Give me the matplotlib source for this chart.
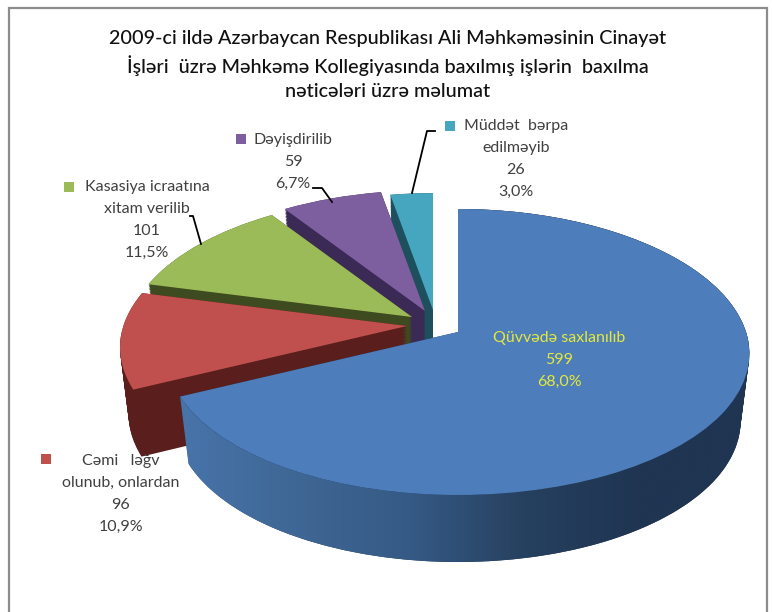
import numpy as np
import matplotlib
matplotlib.use('Agg')
import matplotlib.pyplot as plt
from matplotlib.transforms import Transform
from matplotlib.patches import Polygon
from matplotlib.colors import LinearSegmentedColormap

plt.rcParams['font.family'] = ['Lato', 'Noto Sans', 'DejaVu Sans']

categories = ['Qüvvədə saxlanılıb', 'Cəmi   ləğv\nolunub, onlardan', 'Kasasiya icraatına\nxitam verilib',
              'Dəyişdirilib', 'Müddət  bərpa\nedilməyib']
values = [599, 96, 101, 59, 26]
percents = ['68,0%', '10,9%', '11,5%', '6,7%', '3,0%']
face_colors = ['#4d7ebb', '#c0504d', '#9bbb59', '#7d5f9f', '#46a5bf']
side_colors = ['#1f3552', '#5a1f1c', '#3e4a1f', '#3a2a55', '#1e4f5c']
title = ('2009-ci ildə Azərbaycan Respublikası Ali Məhkəməsinin Cinayət\n'
         'İşləri  üzrə Məhkəmə Kollegiyasında baxılmış işlərin  baxılma\n'
         'nəticələri üzrə məlumat')

# where each slice's tip ends up in the picture, and its size
tips = [(458, 332), (407, 326), (412, 317), (425, 311), (433, 310)]
scales = [1.0, 0.985, 0.98, 0.98, 0.95]
order = [4, 3, 2, 1, 0]  # back to front
DROP = 67
LAYERS = 48


class Tilt(Transform):
    # maps the unit circle of the pie to the tilted disc, z=0 top, z=1 bottom
    input_dims = 2
    output_dims = 2

    def __init__(self, tip, scale, z=0):
        super().__init__()
        self.tip, self.scale, self.z = tip, scale, z

    def transform_non_affine(self, v):
        v = np.asarray(v, dtype=float)
        x, y = v[:, 0], v[:, 1]
        px = self.tip[0] + self.scale * (1 - 0.03 * self.z) * x * (288 - 45 * y)
        py = self.tip[1] - self.scale * (143 * y - 20 * y * y) + DROP * self.z
        return np.column_stack([px, py])


fig = plt.figure(figsize=(7.73, 6.12), dpi=100)
ax = fig.add_axes([0, 0, 1, 1])


def draw_pie(z, colors, base):
    wedges, _ = ax.pie(values, colors=colors, startangle=90, counterclock=False, radius=1)
    for i, w in enumerate(wedges):
        w.set_transform(Tilt(tips[i], scales[i], z) + ax.transData)
        w.set_zorder(order[i] * 10 + base)
        w.set_linewidth(0)


for z in np.linspace(1, 0, LAYERS):
    draw_pie(z, side_colors, 1)
draw_pie(0, face_colors, 3)

# shaded rim of the big slice
end = 90 - 360 * values[0] / sum(values)
th = np.radians(np.linspace(90, end, 200))
arc = np.column_stack([np.cos(th), np.sin(th)])
rim = np.vstack([Tilt(tips[0], scales[0], 0).transform_non_affine(arc),
                 Tilt(tips[0], scales[0], 1).transform_non_affine(arc)[::-1]])
shade = LinearSegmentedColormap.from_list('rim', ['#4874aa', '#3f6795', '#355a85', '#26405f', '#1f3552', '#1f3552'])
im = ax.imshow(np.linspace(0, 1, 256)[None, :], cmap=shade, aspect='auto',
               extent=(180, 755, 580, 200), zorder=order[0] * 10 + 2)
poly = Polygon(rim, closed=True, transform=ax.transData)
im.set_clip_path(poly)

ax.set_aspect('auto')
ax.set_xlim(0, 773)
ax.set_ylim(612, 0)
ax.axis('off')

ax.plot([9, 9, 767, 767], [612, 8, 8, 612], color='#8c8c8c', lw=1.6, zorder=1, solid_joinstyle='miter')

ax.text(388, 65, title, ha='center', va='center', fontsize=14.2, fontweight='medium',
        color='#111111', linespacing=1.5, zorder=100)

# data labels
TXT = '#404040'
ax.text(559, 360, categories[0] + '\n' + str(values[0]) + '\n' + percents[0], ha='center', va='center',
        color='#e4e83a', fontsize=11.5, linespacing=1.7, zorder=100)
ax.text(121, 494, categories[1] + '\n' + str(values[1]) + '\n' + percents[1], ha='center', va='center',
        color=TXT, fontsize=11.5, linespacing=1.7, zorder=100)
ax.text(147, 220, categories[2] + '\n' + str(values[2]) + '\n' + percents[2], ha='center', va='center',
        color=TXT, fontsize=11.5, linespacing=1.7, zorder=100)
ax.text(293, 162, categories[3] + '\n' + str(values[3]) + '\n' + percents[3], ha='center', va='center',
        color=TXT, fontsize=11.5, linespacing=1.7, zorder=100)
ax.text(516, 159, categories[4] + '\n' + str(values[4]) + '\n' + percents[4], ha='center', va='center',
        color=TXT, fontsize=11.5, linespacing=1.7, zorder=100)

# small colour keys next to the labels
ax.scatter([46, 69, 241, 450], [459, 187, 139, 126], marker='s', s=48,
           c=[face_colors[1], face_colors[2], face_colors[3], face_colors[4]], linewidths=0, zorder=100)

# leader lines
ax.plot([435, 427, 412], [131, 131, 193], color='black', lw=1.3, zorder=100)
ax.plot([313, 322, 332], [188, 188, 202], color='black', lw=1.3, zorder=100)
ax.plot([190, 193, 201], [216, 216, 244], color='black', lw=1.3, zorder=100)

fig.savefig('out.png', dpi=100, facecolor='white')
